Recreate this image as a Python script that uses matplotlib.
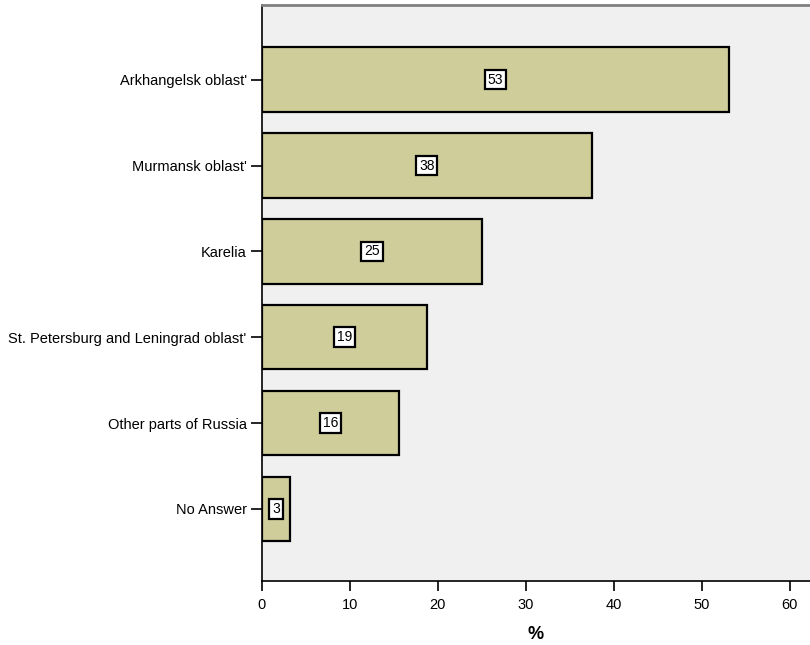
import matplotlib
matplotlib.use("Agg")
import matplotlib.pyplot as plt

categories = ["Arkhangelsk oblast'", "Murmansk oblast'", "Karelia",
              "St. Petersburg and Leningrad oblast'", "Other parts of Russia", "No Answer"]
values = [53.1, 37.5, 25.0, 18.75, 15.6, 3.2]
labels = ["53", "38", "25", "19", "16", "3"]
xticks = [0, 10, 20, 30, 40, 50, 60]

plt.rcParams['font.family'] = ['Liberation Sans', 'DejaVu Sans']

fig = plt.figure(figsize=(8.1, 6.45), dpi=100)
ax = fig.add_axes([262/810, 64/645, 1 - 262/810, (581-5)/645])
ax.set_facecolor('#f0f0f0')

ypos = list(range(len(categories)))
ax.barh(ypos, values, height=0.75, color='#cfcd9a', edgecolor='black', linewidth=1.6, zorder=2)
for y, v, t in zip(ypos, values, labels):
    ax.text(v/2, y, t, ha='center', va='center', fontsize=10, zorder=3,
            bbox=dict(boxstyle='square,pad=0.2', facecolor='white', edgecolor='black', linewidth=1.6))

ax.set_yticks(ypos)
ax.set_yticklabels(categories, fontsize=10.5)
ax.set_ylim(len(categories) - 1 + 0.84, -0.87)
ax.set_xlim(0, 62.3)
ax.set_xticks(xticks)
ax.set_xticklabels([str(x) for x in xticks], fontsize=10.5)
ax.tick_params(axis='y', length=8, width=1.2, direction='out', pad=3)
ax.tick_params(axis='x', length=7, width=1.2, direction='out', pad=5)
ax.set_xlabel('%', fontsize=13, fontweight='bold', labelpad=10)

for s in ['left', 'bottom']:
    ax.spines[s].set_color('black')
    ax.spines[s].set_linewidth(1.2)
ax.spines['top'].set_color('#808080')
ax.spines['top'].set_linewidth(2)
ax.spines['right'].set_visible(False)

fig.savefig('out.png', dpi=100, facecolor='white')
